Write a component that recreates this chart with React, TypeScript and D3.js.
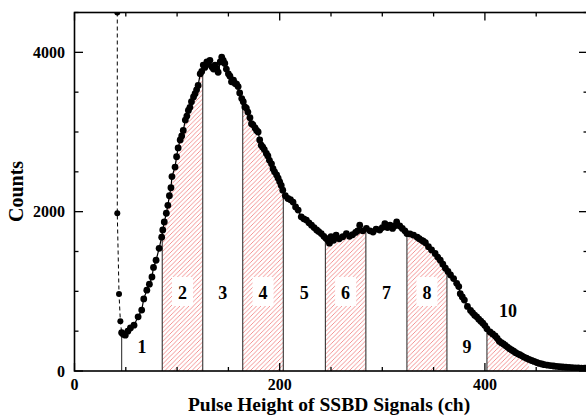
import React from 'react';
import * as d3 from 'd3';

// dashed leading part (clipped spike near the threshold)
const preChannels = [41.7, 41.7, 43.4, 44.7, 46];
const preCounts = [4500, 1980, 965, 625, 480];

// main spectrum
const channels = [
  46, 47.5, 49.5, 52, 54.5, 58, 62, 65.5, 67.5, 70.5, 73, 75.5, 77, 79.5, 82.5, 85, 86, 87.5, 89.5, 91,
  92.5, 94, 95, 98, 99.5, 101, 103, 104.5, 106, 108, 109.5, 111, 112.5, 114, 116, 117.5, 119, 120.5, 122.5, 124,
  125.5, 127, 129, 130.5, 132, 134, 135.5, 137, 138.5, 140, 142, 143.5, 145, 146.5, 148, 150, 151.5, 153, 155, 156.5,
  158, 159.5, 161, 163, 164.5, 166, 167.5, 169, 171, 172.5, 174, 176, 177.5, 179, 180.5, 182, 183.5, 185, 187, 188.5,
  190, 192, 193.5, 195, 197, 198.5, 200, 201.5, 203, 205.5, 208, 210.5, 213, 215.5, 218, 221, 223.5, 226, 228.5, 231,
  233.5, 236, 238, 240.5, 243, 245, 247, 248.5, 250, 252.5, 255, 258, 261.5, 265, 268, 271, 274, 276, 278, 281,
  284.5, 288, 291, 294, 297.5, 300, 302.5, 305, 307.5, 310, 312, 314, 317, 319.5, 322, 324, 327, 330.5, 334, 336,
  338.5, 340, 342, 345, 348, 351.5, 354, 356.5, 359, 361.5, 364, 366.5, 369.5, 372.5, 374.5, 376, 378, 380, 383, 386,
  388, 390, 392, 394, 396, 398, 400, 402, 405, 407.5, 410, 412, 414, 416, 418, 420, 422, 424, 426, 428,
  430, 432, 434, 436, 438, 440.5, 443, 445.5, 448, 450.5, 453, 455.5, 458, 461, 464, 467, 470, 473, 476, 479,
  482, 485, 488, 491, 494, 497, 499,
];
const counts = [
  480, 460, 450, 500, 540, 575, 680, 765, 905, 1015, 1090, 1180, 1300, 1390, 1540, 1680, 1770, 1870, 1980, 2080,
  2200, 2300, 2440, 2560, 2690, 2800, 2900, 2950, 3020, 3150, 3200, 3270, 3310, 3380, 3440, 3480, 3530, 3585, 3730, 3760,
  3840, 3810, 3880, 3850, 3900, 3815, 3790, 3840, 3800, 3750, 3880, 3940, 3900, 3860, 3790, 3730, 3700, 3630, 3650, 3610,
  3600, 3570, 3490, 3420, 3380, 3315, 3300, 3250, 3180, 3105, 3090, 3050, 3020, 3000, 2900, 2835, 2810, 2780, 2730, 2700,
  2645, 2600, 2540, 2500, 2460, 2420, 2375, 2330, 2270, 2200, 2165, 2150, 2120, 2060, 2020, 1935, 1910, 1895, 1860, 1830,
  1800, 1770, 1750, 1725, 1690, 1665, 1640, 1605, 1685, 1640, 1705, 1660, 1685, 1725, 1690, 1710, 1740, 1760, 1830, 1760,
  1790, 1760, 1745, 1780, 1770, 1800, 1850, 1800, 1830, 1790, 1820, 1870, 1820, 1790, 1760, 1725, 1720, 1705, 1680, 1660,
  1640, 1630, 1610, 1560, 1520, 1475, 1430, 1390, 1340, 1290, 1250, 1205, 1160, 1100, 1060, 970, 930, 890, 810, 760,
  730, 700, 680, 650, 625, 600, 570, 530, 490, 465, 440, 410, 375, 355, 340, 320, 300, 280, 265, 248,
  230, 215, 205, 190, 175, 160, 145, 132, 120, 107, 95, 88, 80, 73, 68, 63, 58, 54, 50, 47,
  45, 42, 40, 38, 37, 36, 35,
];

const boundaries = [46, 85.5, 125, 164, 203.5, 244.5, 284, 324, 363, 402, 443];
const regionLabels = ['1', '2', '3', '4', '5', '6', '7', '8', '9', '10'];
const xTickValues = [0, 200, 400];
const yTickValues = [0, 2000, 4000];

const W = 586;
const H = 415;
const FONT = '"Liberation Serif", "Times New Roman", serif';

export default function App() {
  const x = d3.scaleLinear().domain([0, 500]).range([74.5, 587.5]);
  const y = d3.scaleLinear().domain([0, 4500]).range([371, 12.5]);
  const [x0, x1] = x.range();
  const [yb, yt] = y.range();

  const pts: [number, number][] = channels.map((c, i) => [c, counts[i]]);
  const prePts: [number, number][] = preChannels.map((c, i) => [c, preCounts[i]]);

  const valueAt = (c: number) => {
    for (let i = 0; i < pts.length - 1; i++) {
      const [a, va] = pts[i];
      const [b, vb] = pts[i + 1];
      if (c >= a && c <= b) return va + ((vb - va) * (c - a)) / (b - a);
    }
    return pts[pts.length - 1][1];
  };

  const line = d3.line<[number, number]>().x((d) => x(d[0])).y((d) => y(d[1]));
  const area = d3
    .area<[number, number]>()
    .x((d) => x(d[0]))
    .y0(y(0))
    .y1((d) => y(d[1]));

  const regionArea = (a: number, b: number) => {
    const seg: [number, number][] = [[a, valueAt(a)]];
    pts.forEach((p) => {
      if (p[0] > a && p[0] < b) seg.push(p);
    });
    seg.push([b, valueAt(b)]);
    return area(seg) || '';
  };

  const xMinor = d3.range(0, 501, 50);
  const yMinor = d3.range(0, 4501, 500);

  const labelBaselines = [353, 299, 299, 299, 299, 299, 299, 299, 353, 317];

  return (
    <svg width={W} height={H} style={{ display: 'block', position: 'absolute', left: 0, top: 0 }}>
      <defs>
        <pattern id="hatch" patternUnits="userSpaceOnUse" width="4.5" height="4.5">
          <path d="M0,4.5 L4.5,0 M-1,1 L1,-1 M3.5,5.5 L5.5,3.5" stroke="#f07a7a" strokeWidth="0.8" />
        </pattern>
        <clipPath id="plot">
          <rect x={x0} y={yt} width={x1 - x0} height={yb - yt} />
        </clipPath>
      </defs>
      <rect width={W} height={H} fill="#fff" />
      <g clipPath="url(#plot)">
        {boundaries.slice(0, -1).map((b, i) =>
          i % 2 === 1 ? (
            <path key={'h' + i} d={regionArea(b, boundaries[i + 1])} fill="url(#hatch)" />
          ) : null
        )}
        {boundaries.slice(0, -1).map((b, i) => (
          <line
            key={'b' + i}
            x1={x(b)}
            x2={x(b)}
            y1={y(0)}
            y2={y(valueAt(b))}
            stroke="#222"
            strokeWidth={1}
          />
        ))}
        {regionLabels.map((lab, i) => {
          const cx = x((boundaries[i] + boundaries[i + 1]) / 2);
          return (
            <g key={'l' + i}>
              {i % 2 === 1 && i < 9 ? <rect x={cx - 10.5} y={277} width={21} height={29} fill="#fff" /> : null}
              <text
                x={cx}
                y={labelBaselines[i]}
                textAnchor="middle"
                fontFamily={FONT}
                fontWeight="bold"
                fontSize={18}
              >
                {lab}
              </text>
            </g>
          );
        })}
        <path d={line(prePts) || ''} fill="none" stroke="#000" strokeWidth={1} strokeDasharray="4,3" />
        <path d={line(pts) || ''} fill="none" stroke="#000" strokeWidth={1.2} />
        {prePts.map((p, i) => (
          <circle key={'pc' + i} cx={x(p[0])} cy={y(p[1])} r={3} fill="#000" />
        ))}
        {pts.map((p, i) => (
          <circle key={'c' + i} cx={x(p[0])} cy={y(p[1])} r={3.4} fill="#000" />
        ))}
      </g>
      {/* frame */}
      <rect x={x0} y={yt} width={x1 - x0} height={yb - yt} fill="none" stroke="#000" strokeWidth={1.6} />
      {xMinor.map((t) => {
        const major = t % 200 === 0;
        const len = major ? 8 : 4;
        return (
          <g key={'xt' + t}>
            <line x1={x(t)} x2={x(t)} y1={yb} y2={yb - len} stroke="#000" strokeWidth={1.3} />
            <line x1={x(t)} x2={x(t)} y1={yt} y2={yt + len} stroke="#000" strokeWidth={1.3} />
          </g>
        );
      })}
      {yMinor.map((t) => {
        const major = t % 2000 === 0;
        const len = major ? 8.5 : 4;
        return (
          <g key={'yt' + t}>
            <line x1={x0} x2={x0 + len} y1={y(t)} y2={y(t)} stroke="#000" strokeWidth={1.3} />
            <line x1={x1} x2={x1 - len} y1={y(t)} y2={y(t)} stroke="#000" strokeWidth={1.3} />
          </g>
        );
      })}
      {xTickValues.map((t) => (
        <text
          key={'xl' + t}
          x={x(t)}
          y={390}
          textAnchor="middle"
          fontFamily={FONT}
          fontWeight="bold"
          fontSize={16}
        >
          {t}
        </text>
      ))}
      {yTickValues.map((t) => (
        <text
          key={'yl' + t}
          x={65}
          y={y(t) + 5.5}
          textAnchor="end"
          fontFamily={FONT}
          fontWeight="bold"
          fontSize={16}
        >
          {t}
        </text>
      ))}
      <text x={329} y={411} textAnchor="middle" fontFamily={FONT} fontWeight="bold" fontSize={19.5}>
        Pulse Height of SSBD Signals (ch)
      </text>
      <text
        transform={`translate(23, 191.5) rotate(-90)`}
        textAnchor="middle"
        fontFamily={FONT}
        fontWeight="bold"
        fontSize={20}
      >
        Counts
      </text>
    </svg>
  );
}
